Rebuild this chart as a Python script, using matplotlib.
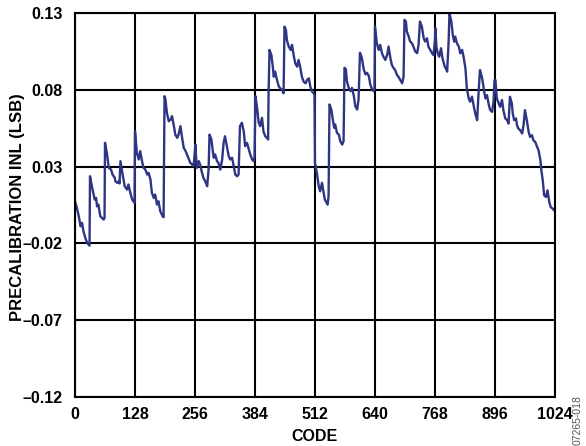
import matplotlib
matplotlib.use("Agg")
import matplotlib.pyplot as plt

plt.rcParams['font.family'] = ['Liberation Sans', 'DejaVu Sans']

x_ticks = [0, 128, 256, 384, 512, 640, 768, 896, 1024]
y_ticks = [-0.12, -0.07, -0.02, 0.03, 0.08, 0.13]
y_tick_labels = ['\u20130.12', '\u20130.07', '\u20130.02', '0.03', '0.08', '0.13']

code = [
    0, 4, 8, 12, 15, 18, 22, 26, 31,
    32, 36, 42, 45, 47, 50, 54, 61, 63,
    64, 68, 72, 77, 80, 85, 86, 90, 94, 95,
    97, 101, 106, 111, 114, 118, 122, 127,
    128, 132, 136, 139, 143, 146, 150, 154, 157, 161, 164, 168, 171, 175, 178, 182, 187, 189,
    191, 193, 196, 200, 204, 207, 211, 214, 218, 221, 225, 228, 232, 236, 239, 243, 246, 250, 253,
    257, 258, 260, 264, 267, 271, 274, 278, 282, 285,
    287, 291, 294, 296, 299, 303, 306, 310, 314, 317,
    320, 324, 328, 331, 335, 338, 342, 346, 349,
    352, 356, 360, 363, 367, 370, 374, 378, 381, 383,
    385, 388, 392, 395, 399, 402, 406, 410, 412, 413,
    415, 419, 422, 424, 427, 431, 435, 438, 442, 445,
    447, 450, 452, 456, 460, 463, 467, 470, 474, 477, 481, 484, 488, 492, 495, 499, 502, 506, 509, 511,
    512, 516, 520, 523, 527, 530, 533, 535, 539, 541,
    543, 547, 550, 553, 555, 559, 563, 566, 570, 573,
    575, 578, 580, 584, 588, 591, 595, 598, 602, 605,
    608, 612, 616, 620, 623, 627, 630, 634, 637, 639,
    640, 644, 648, 651, 655, 658, 662, 666, 669, 673, 676, 680, 683, 687, 690, 694, 698, 701,
    703, 706, 708, 712, 715, 719, 722, 726, 730, 733,
    736, 740, 744, 747, 751, 754, 758, 762, 765, 768,
    769, 771, 774, 777, 781, 784, 789, 791, 794, 797,
    799, 803, 806, 809, 811, 815, 819, 822, 826, 829, 833, 836, 840, 843, 847, 851, 854, 858, 861,
    864, 868, 871, 873, 876, 879, 883, 886, 890, 893, 895,
    897, 900, 904, 907, 911, 914, 918, 922, 925,
    928, 932, 934, 937, 941, 943, 946, 950, 954, 957,
    960, 964, 968, 971, 975, 978, 982, 986, 989, 993, 995, 998, 1001, 1005, 1008, 1012, 1015, 1019, 1022, 1024,
]

inl = [
    0.0074, 0.0031, -0.0024, -0.0089, -0.0067, -0.0121, -0.0165, -0.0197, -0.0215,
    0.0237, 0.0172, 0.0085, 0.0096, 0.0041, 0.0052, -0.0024, -0.0045, -0.0035,
    0.0454, 0.0389, 0.0292, 0.0280, 0.0248, 0.0226, 0.0204, 0.0194, 0.0205, 0.0190,
    0.0335, 0.0259, 0.0172, 0.0150, 0.0183, 0.0129, 0.0085, 0.0063,
    0.0530, 0.0389, 0.0346, 0.0400, 0.0335, 0.0292, 0.0281, 0.0248, 0.0259, 0.0215, 0.0129, 0.0096, 0.0118, 0.0052, 0.0074, 0.0009, -0.0024, -0.0030,
    0.0758, 0.0737, 0.0650, 0.0595, 0.0606, 0.0628, 0.0563, 0.0508, 0.0487, 0.0508, 0.0563, 0.0497, 0.0422, 0.0400, 0.0378, 0.0346, 0.0324, 0.0313, 0.0302,
    0.0443, 0.0378, 0.0292, 0.0335, 0.0313, 0.0259, 0.0226, 0.0204, 0.0172, 0.0280,
    0.0508, 0.0476, 0.0400, 0.0357, 0.0378, 0.0335, 0.0324, 0.0280, 0.0346, 0.0454,
    0.0497, 0.0433, 0.0367, 0.0346, 0.0357, 0.0313, 0.0248, 0.0237, 0.0248,
    0.0563, 0.0585, 0.0530, 0.0433, 0.0454, 0.0422, 0.0378, 0.0346, 0.0335, 0.0360,
    0.0758, 0.0693, 0.0585, 0.0563, 0.0617, 0.0530, 0.0497, 0.0487, 0.0476, 0.0780,
    0.1059, 0.1026, 0.0950, 0.0885, 0.0918, 0.0863, 0.0820, 0.0809, 0.0798, 0.0777,
    0.1211, 0.1189, 0.1124, 0.1081, 0.1059, 0.1092, 0.1016, 0.0972, 0.0950, 0.0994, 0.0940, 0.0885, 0.0852, 0.0842, 0.0863, 0.0874, 0.0820, 0.0787, 0.0777, 0.0766,
    0.0324, 0.0259, 0.0172, 0.0139, 0.0194, 0.0139, 0.0085, 0.0074, 0.0052, 0.0107,
    0.0704, 0.0671, 0.0606, 0.0552, 0.0574, 0.0519, 0.0508, 0.0465, 0.0443, 0.0465,
    0.0943, 0.0932, 0.0856, 0.0812, 0.0791, 0.0812, 0.0758, 0.0693, 0.0671, 0.0737,
    0.1041, 0.1008, 0.0932, 0.0900, 0.0910, 0.0889, 0.0834, 0.0802, 0.0791, 0.0802,
    0.1211, 0.1102, 0.1059, 0.1092, 0.1037, 0.1016, 0.0994, 0.1026, 0.1081, 0.1005, 0.0961, 0.0940, 0.0929, 0.0896, 0.0885, 0.0863, 0.0842, 0.0885,
    0.1255, 0.1244, 0.1179, 0.1146, 0.1114, 0.1103, 0.1081, 0.1049, 0.1038, 0.1092,
    0.1244, 0.1211, 0.1135, 0.1114, 0.1135, 0.1081, 0.1059, 0.1037, 0.1026, 0.1124,
    0.1200, 0.1080, 0.1037, 0.1015, 0.1070, 0.1005, 0.0950, 0.0940, 0.0918, 0.1102,
    0.1298, 0.1243, 0.1157, 0.1113, 0.1146, 0.1102, 0.1080, 0.1037, 0.1059, 0.1015, 0.0940, 0.0809, 0.0744, 0.0722, 0.0755, 0.0689, 0.0646, 0.0602, 0.0776,
    0.0928, 0.0884, 0.0830, 0.0786, 0.0743, 0.0765, 0.0700, 0.0667, 0.0656, 0.0721, 0.0863,
    0.0863, 0.0744, 0.0711, 0.0689, 0.0733, 0.0667, 0.0613, 0.0602, 0.0580,
    0.0754, 0.0711, 0.0646, 0.0602, 0.0613, 0.0569, 0.0547, 0.0536, 0.0515, 0.0569,
    0.0667, 0.0602, 0.0525, 0.0493, 0.0504, 0.0471, 0.0460, 0.0427, 0.0406, 0.0341, 0.0276, 0.0210, 0.0112, 0.0102, 0.0145, 0.0069, 0.0036, 0.0026, 0.0015, 0.0015,
]

fig = plt.figure(figsize=(5.86, 4.46), dpi=100)
ax = fig.add_axes([0.128, 0.110, 0.819, 0.861])

ax.plot(code, inl, color='#2e3684', linewidth=1.7, solid_joinstyle='round')

ax.set_xlim(0, 1024)
ax.set_ylim(-0.12, 0.13)
ax.set_xticks(x_ticks)
ax.set_xticklabels([str(t) for t in x_ticks])
ax.set_yticks(y_ticks)
ax.set_yticklabels(y_tick_labels)
ax.grid(True, color='black', linewidth=1.5)
ax.set_axisbelow(True)
for s in ax.spines.values():
    s.set_linewidth(1.5)
    s.set_color('black')
ax.tick_params(axis='y', length=0, pad=9, labelsize=11.5)
ax.tick_params(axis='x', length=0, pad=7, labelsize=11.5)
for lab in ax.get_xticklabels() + ax.get_yticklabels():
    lab.set_fontweight('bold')

ax.set_xlabel('CODE', fontsize=11.5, fontweight='bold')
ax.set_ylabel('PRECALIBRATION INL (LSB)', fontsize=12, fontweight='bold')
ax.yaxis.set_label_coords(-0.104, 0.495)
ax.xaxis.set_label_coords(0.5, -0.083)

fig.text(0.986, 0.003, '07265-018', rotation=90, fontsize=7.5, color='#555555',
         ha='center', va='bottom')

fig.savefig('out.png', dpi=100)
